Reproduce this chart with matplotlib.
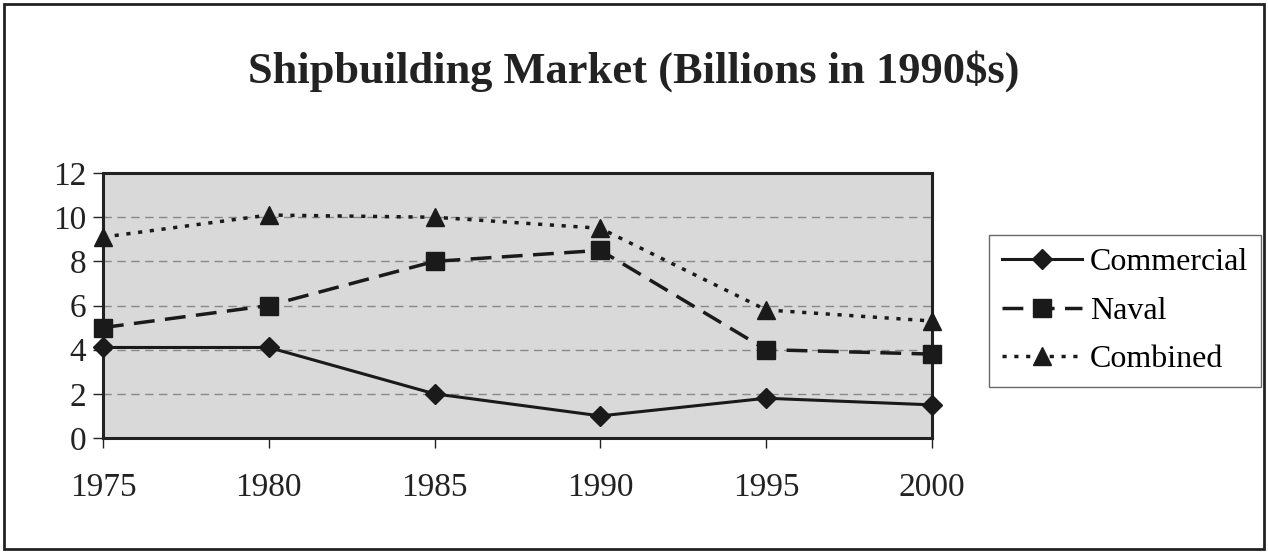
import matplotlib
matplotlib.use('Agg')
import matplotlib.pyplot as plt
from matplotlib.patches import Rectangle

years = [1975, 1980, 1985, 1990, 1995, 2000]
commercial = [4.1, 4.1, 2.0, 1.0, 1.8, 1.5]
naval = [5.0, 6.0, 8.0, 8.5, 4.0, 3.8]
combined = [9.1, 10.1, 10.0, 9.5, 5.8, 5.3]
yticks = [0, 2, 4, 6, 8, 10, 12]

plt.rcParams['font.family'] = ['Liberation Serif', 'DejaVu Serif']

fig = plt.figure(figsize=(12.68, 5.53), dpi=100)
fig.patch.set_facecolor('white')

# outer frame
fig.patches.append(Rectangle((0.003, 0.007), 0.994, 0.986, transform=fig.transFigure,
                             fill=False, edgecolor='#222222', linewidth=2.0))

fig.text(0.5, 0.872, 'Shipbuilding Market (Billions in 1990$s)', ha='center', va='center',
         fontsize=32, fontweight='bold', color='#222222')

ax = fig.add_axes([0.0812, 0.208, 0.6538, 0.479])
ax.set_facecolor('#d9d9d9')

ax.plot(years, commercial, color='#1a1a1a', lw=2.2, marker='D', ms=10, label='Commercial')
ax.plot(years, naval, color='#1a1a1a', lw=2.5, ls=(0, (6, 3)), marker='s', ms=13,
        label='Naval')
ax.plot(years, combined, color='#1a1a1a', lw=2.5, ls=(0, (1.2, 2.2)), marker='^', ms=13,
        label='Combined')

ax.set_xlim(1975, 2000)
ax.set_ylim(0, 12)
ax.set_xticks(years)
ax.set_yticks(yticks)
ax.yaxis.grid(True, ls=(0, (6, 4)), color='#888888', lw=1.0)
ax.set_axisbelow(True)
for s in ax.spines.values():
    s.set_linewidth(2.2)
    s.set_color('#222222')
    s.set_zorder(1)
for l in ax.lines:
    l.set_clip_on(False)
ax.tick_params(axis='both', labelsize=24, colors='#222222', length=7, width=1.0,
               direction='out')
ax.tick_params(axis='x', pad=18)
ax.tick_params(axis='y', pad=5)

leg = fig.legend(loc='upper left', bbox_to_anchor=(0.78, 0.575), fontsize=23,
                 frameon=True, fancybox=False, edgecolor='#444444', handlelength=2.5,
                 handletextpad=0.25, borderpad=0.4, labelspacing=0.6, borderaxespad=0)
leg.get_frame().set_linewidth(1.0)

fig.savefig('out.png', dpi=100)
